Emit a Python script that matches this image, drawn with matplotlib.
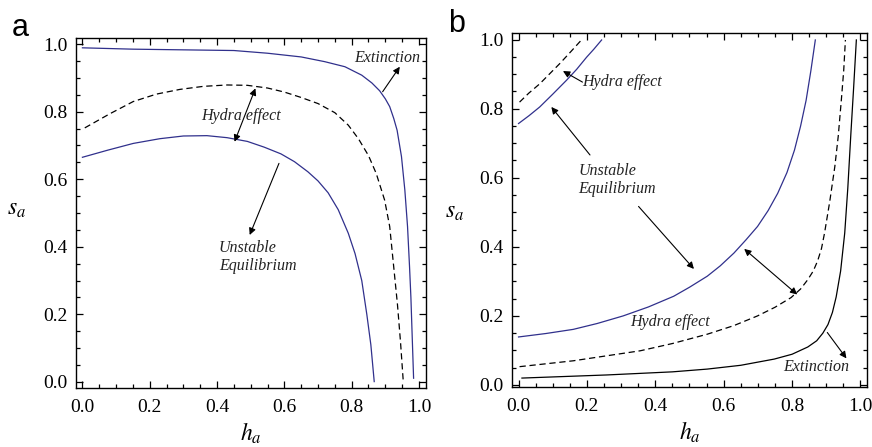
import matplotlib
matplotlib.use("Agg")
import matplotlib.pyplot as plt
from matplotlib.ticker import MultipleLocator

plt.rcParams["mathtext.fontset"] = "stix"
plt.rcParams["font.family"] = ["Liberation Serif", "DejaVu Serif"]

BLUE = "#30308c"

# ---- panel a ----
a_ext_h = [0.0, 0.15, 0.30, 0.45, 0.55, 0.65, 0.72, 0.78, 0.83, 0.86, 0.883, 0.90, 0.913, 0.925,
           0.935, 0.948, 0.958, 0.966, 0.972, 0.976, 0.980, 0.984]
a_ext_s = [0.989, 0.985, 0.983, 0.981, 0.973, 0.962, 0.948, 0.933, 0.908, 0.885, 0.862, 0.838, 0.815,
           0.78, 0.745, 0.667, 0.568, 0.46, 0.34, 0.25, 0.13, 0.011]

a_dash_h = [0.007, 0.08, 0.151, 0.22, 0.29, 0.36, 0.43, 0.49, 0.55, 0.60, 0.65, 0.70, 0.75, 0.79,
            0.82, 0.85, 0.873, 0.898, 0.913, 0.926, 0.936, 0.945, 0.953]
a_dash_s = [0.752, 0.793, 0.830, 0.852, 0.866, 0.875, 0.879, 0.878, 0.870, 0.858, 0.842, 0.824, 0.797,
            0.76, 0.72, 0.67, 0.617, 0.538, 0.46, 0.33, 0.23, 0.12, 0.006]

a_unst_h = [0.0, 0.075, 0.151, 0.23, 0.30, 0.37, 0.43, 0.49, 0.54, 0.59, 0.63, 0.67, 0.70, 0.73,
            0.76, 0.79, 0.81, 0.83, 0.845, 0.857, 0.867]
a_unst_s = [0.665, 0.686, 0.706, 0.72, 0.728, 0.729, 0.723, 0.712, 0.695, 0.675, 0.652, 0.622, 0.595,
            0.56, 0.51, 0.44, 0.38, 0.30, 0.20, 0.11, 0.001]

# ---- panel b ----
b_top_h = [0.0, 0.031, 0.062, 0.10, 0.14, 0.17, 0.199, 0.22, 0.243]
b_top_s = [0.757, 0.78, 0.805, 0.842, 0.882, 0.914, 0.949, 0.972, 0.999]

b_topd_h = [0.003, 0.03, 0.062, 0.09, 0.12, 0.15, 0.184]
b_topd_s = [0.819, 0.845, 0.872, 0.90, 0.930, 0.962, 0.999]

b_unst_h = [0.0, 0.08, 0.16, 0.23, 0.306, 0.38, 0.454, 0.50, 0.552, 0.59, 0.63, 0.665, 0.699, 0.73,
            0.758, 0.785, 0.807, 0.825, 0.841, 0.855, 0.868]
b_unst_s = [0.139, 0.149, 0.161, 0.178, 0.20, 0.226, 0.257, 0.283, 0.315, 0.345, 0.382, 0.42, 0.459,
            0.505, 0.555, 0.615, 0.68, 0.75, 0.824, 0.91, 0.999]

b_dash_h = [0.003, 0.16, 0.356, 0.45, 0.552, 0.63, 0.699, 0.75, 0.797, 0.825, 0.846, 0.862, 0.875,
            0.886, 0.895, 0.91, 0.925, 0.935, 0.944, 0.951, 0.956]
b_dash_s = [0.053, 0.07, 0.099, 0.12, 0.147, 0.172, 0.20, 0.225, 0.253, 0.278, 0.305, 0.33, 0.36,
            0.395, 0.44, 0.53, 0.632, 0.72, 0.824, 0.91, 0.999]

b_ext_h = [0.01, 0.258, 0.45, 0.552, 0.65, 0.748, 0.80, 0.846, 0.872, 0.89, 0.905, 0.918, 0.929,
           0.942, 0.954, 0.963, 0.972, 0.98, 0.988]
b_ext_s = [0.02, 0.029, 0.038, 0.046, 0.057, 0.075, 0.089, 0.11, 0.128, 0.15, 0.175, 0.21, 0.255,
           0.33, 0.44, 0.57, 0.728, 0.86, 0.999]

TICKS = [0.0, 0.2, 0.4, 0.6, 0.8, 1.0]
TICK_LABELS = ["0.0", "0.2", "0.4", "0.6", "0.8", "1.0"]

fig = plt.figure(figsize=(8.72, 4.47), dpi=100)
ax_a = fig.add_axes([0.0868, 0.1327, 0.4014, 0.7830])
ax_b = fig.add_axes([0.5868, 0.1349, 0.4078, 0.7919])


def style(ax, ylim):
    ax.set_xlim(-0.02, 1.02)
    ax.set_ylim(*ylim)
    ax.set_xticks(TICKS)
    ax.set_xticklabels(TICK_LABELS)
    ax.set_yticks(TICKS)
    ax.set_yticklabels(TICK_LABELS)
    ax.xaxis.set_minor_locator(MultipleLocator(0.05))
    ax.yaxis.set_minor_locator(MultipleLocator(0.05))
    ax.tick_params(which="both", direction="in", top=True, right=True, labelsize=14, width=0.9)
    ax.tick_params(which="major", length=5)
    ax.tick_params(which="minor", length=3)
    ax.tick_params(axis="x", pad=8)
    ax.tick_params(axis="y", pad=6)
    for sp in ax.spines.values():
        sp.set_linewidth(1.0)
    ax.set_xlabel(r"$h_a$", fontsize=17)
    ax.set_ylabel(r"$s_a$", fontsize=17, rotation=0, ha="center", va="center")


lw = 0.9
ann_kw = dict(fontsize=11.5, style="italic", color="#222222")


def arrow(ax, start, end, both=False):
    ax.annotate("", xy=end, xytext=start,
                arrowprops=dict(arrowstyle="<|-|>" if both else "-|>", color="black",
                                lw=0.8, mutation_scale=10, shrinkA=0, shrinkB=0))


# panel a
ax_a.plot(a_ext_h, a_ext_s, color=BLUE, lw=lw)
ax_a.plot(a_dash_h, a_dash_s, color="black", lw=lw, ls=(0, (5, 3)))
ax_a.plot(a_unst_h, a_unst_s, color=BLUE, lw=lw)
style(ax_a, (-0.017, 1.019))
ax_a.xaxis.set_label_coords(0.5, -0.094)
ax_a.yaxis.set_label_coords(-0.17, 0.508)

ax_a.text(0.905, 0.96, "Extinction", ha="center", va="center", **ann_kw)
arrow(ax_a, (0.892, 0.859), (0.943, 0.933))
arrow(ax_a, (0.452, 0.711), (0.514, 0.869), both=True)
ax_a.text(0.472, 0.787, "Hydra effect", ha="center", va="center", **ann_kw)
arrow(ax_a, (0.584, 0.647), (0.497, 0.435))
ax_a.text(0.405, 0.37, "Unstable\nEquilibrium", ha="left", va="center", linespacing=1.2, **ann_kw)

# panel b
ax_b.plot(b_top_h, b_top_s, color=BLUE, lw=lw)
ax_b.plot(b_topd_h, b_topd_s, color="black", lw=lw, ls=(0, (5, 3)))
ax_b.plot(b_unst_h, b_unst_s, color=BLUE, lw=lw)
ax_b.plot(b_dash_h, b_dash_s, color="black", lw=lw, ls=(0, (5, 3)))
ax_b.plot(b_ext_h, b_ext_s, color="black", lw=lw)
style(ax_b, (-0.005, 1.02))
ax_b.xaxis.set_label_coords(0.5, -0.094)
ax_b.yaxis.set_label_coords(-0.16, 0.493)

ax_b.text(0.187, 0.877, "Hydra effect", ha="left", va="center", **ann_kw)
arrow(ax_b, (0.187, 0.877), (0.13, 0.909))
ax_b.text(0.175, 0.593, "Unstable\nEquilibrium", ha="left", va="center", linespacing=1.2, **ann_kw)
arrow(ax_b, (0.209, 0.666), (0.096, 0.805))
arrow(ax_b, (0.351, 0.517), (0.513, 0.336))
arrow(ax_b, (0.66, 0.394), (0.815, 0.262), both=True)
ax_b.text(0.442, 0.183, "Hydra effect", ha="center", va="center", **ann_kw)
arrow(ax_b, (0.903, 0.152), (0.959, 0.077))
ax_b.text(0.87, 0.051, "Extinction", ha="center", va="center", **ann_kw)

# panel letters
fig.text(12 / 872, 1 - 36 / 447, "a", fontsize=22, family="Liberation Sans", ha="left", va="baseline")
fig.text(448 / 872, 1 - 32 / 447, "b", fontsize=22, family="Liberation Sans", ha="left", va="baseline")

fig.savefig("out.png", dpi=100)
